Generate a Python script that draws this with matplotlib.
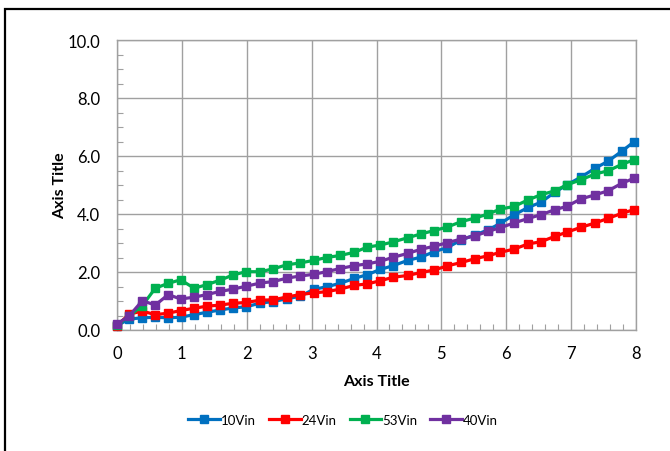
import matplotlib
matplotlib.use("Agg")
import matplotlib.pyplot as plt
from matplotlib.ticker import MultipleLocator, FormatStrFormatter
from matplotlib.patches import Rectangle

# ---- data ----
x_vals = [0.0, 0.19, 0.39, 0.59, 0.79, 0.98, 1.19, 1.38, 1.59, 1.79,
          1.99, 2.21, 2.41, 2.62, 2.82, 3.03, 3.23, 3.44, 3.66, 3.86,
          4.06, 4.26, 4.48, 4.68, 4.89, 5.09, 5.31, 5.52, 5.72, 5.91,
          6.12, 6.34, 6.53, 6.75, 6.93, 7.15, 7.37, 7.57, 7.79, 7.97]

vin10 = [0.15, 0.38, 0.42, 0.44, 0.42, 0.44, 0.53, 0.61, 0.69, 0.76,
         0.80, 0.93, 0.98, 1.08, 1.16, 1.40, 1.49, 1.61, 1.78, 1.91,
         2.09, 2.22, 2.40, 2.51, 2.70, 2.84, 3.11, 3.28, 3.45, 3.68,
         3.97, 4.23, 4.40, 4.75, 5.00, 5.27, 5.58, 5.82, 6.18, 6.49]

vin24 = [0.15, 0.55, 0.65, 0.53, 0.58, 0.67, 0.75, 0.82, 0.86, 0.92,
         0.95, 1.03, 1.04, 1.14, 1.22, 1.28, 1.32, 1.41, 1.54, 1.59,
         1.70, 1.82, 1.88, 1.98, 2.07, 2.21, 2.33, 2.46, 2.56, 2.68,
         2.79, 2.97, 3.04, 3.23, 3.37, 3.54, 3.69, 3.85, 4.03, 4.15]

vin53 = [0.17, 0.49, 0.84, 1.44, 1.61, 1.73, 1.44, 1.56, 1.72, 1.90,
         2.01, 2.01, 2.11, 2.25, 2.31, 2.40, 2.50, 2.57, 2.68, 2.86,
         2.93, 3.04, 3.18, 3.31, 3.43, 3.55, 3.74, 3.86, 4.00, 4.17,
         4.26, 4.49, 4.66, 4.80, 5.00, 5.18, 5.38, 5.49, 5.72, 5.87]

vin40 = [0.20, 0.49, 1.01, 0.86, 1.22, 1.07, 1.13, 1.22, 1.33, 1.41,
         1.51, 1.62, 1.67, 1.79, 1.86, 1.92, 2.01, 2.12, 2.22, 2.28,
         2.37, 2.51, 2.64, 2.78, 2.89, 3.01, 3.14, 3.25, 3.40, 3.53,
         3.69, 3.85, 3.97, 4.15, 4.26, 4.52, 4.66, 4.80, 5.07, 5.23]

series_names = ["10Vin", "24Vin", "53Vin", "40Vin"]
series_vals = [vin10, vin24, vin53, vin40]
series_colors = ["#0070C0", "#FF0000", "#00B050", "#7030A0"]

plt.rcParams['font.family'] = ['Lato', 'DejaVu Sans']

W, H = 670, 452
fig = plt.figure(figsize=(W / 100, H / 100), dpi=100)
ax = fig.add_axes([117 / W, (H - 331) / H, 519 / W, 290 / H])

for name, vals, col in zip(series_names, series_vals, series_colors):
    ax.plot(x_vals, vals, color=col, lw=2.3, marker='s', markersize=5.5,
            label=name, clip_on=False, zorder=3)

ax.set_xlim(0, 8)
ax.set_ylim(0, 10)
ax.xaxis.set_major_locator(MultipleLocator(1))
ax.xaxis.set_minor_locator(MultipleLocator(0.2))
ax.yaxis.set_major_locator(MultipleLocator(2))
ax.yaxis.set_minor_locator(MultipleLocator(0.5))
ax.yaxis.set_major_formatter(FormatStrFormatter('%.1f'))

grid_col = "#A0A0A0"
ax.grid(True, which='major', color=grid_col, lw=1.0, zorder=0)
for s in ax.spines.values():
    s.set_color(grid_col)
    s.set_linewidth(1.0)

ax.tick_params(which='major', length=0, labelsize=12, colors='#000000')
ax.tick_params(axis='x', which='major', pad=11)
ax.tick_params(axis='y', which='major', pad=12)
ax.tick_params(which='minor', direction='in', length=4, color=grid_col, width=0.8)

ax.set_xlabel("Axis Title", fontsize=11.5, fontweight='bold', labelpad=9)
ax.set_ylabel("Axis Title", fontsize=11.5, fontweight='bold', labelpad=0.5)

fig.legend(loc='center', bbox_to_anchor=(343 / W, (H - 421) / H), ncol=4,
           frameon=False, fontsize=9.5, handlelength=2.4, handletextpad=0.05,
           columnspacing=1.0)

fig.patches.append(Rectangle((5 / W, -0.1), 2.0, (H - 10) / H + 0.1,
                             transform=fig.transFigure, fill=False,
                             edgecolor='black', lw=1.6))

fig.savefig("out.png", dpi=100)
